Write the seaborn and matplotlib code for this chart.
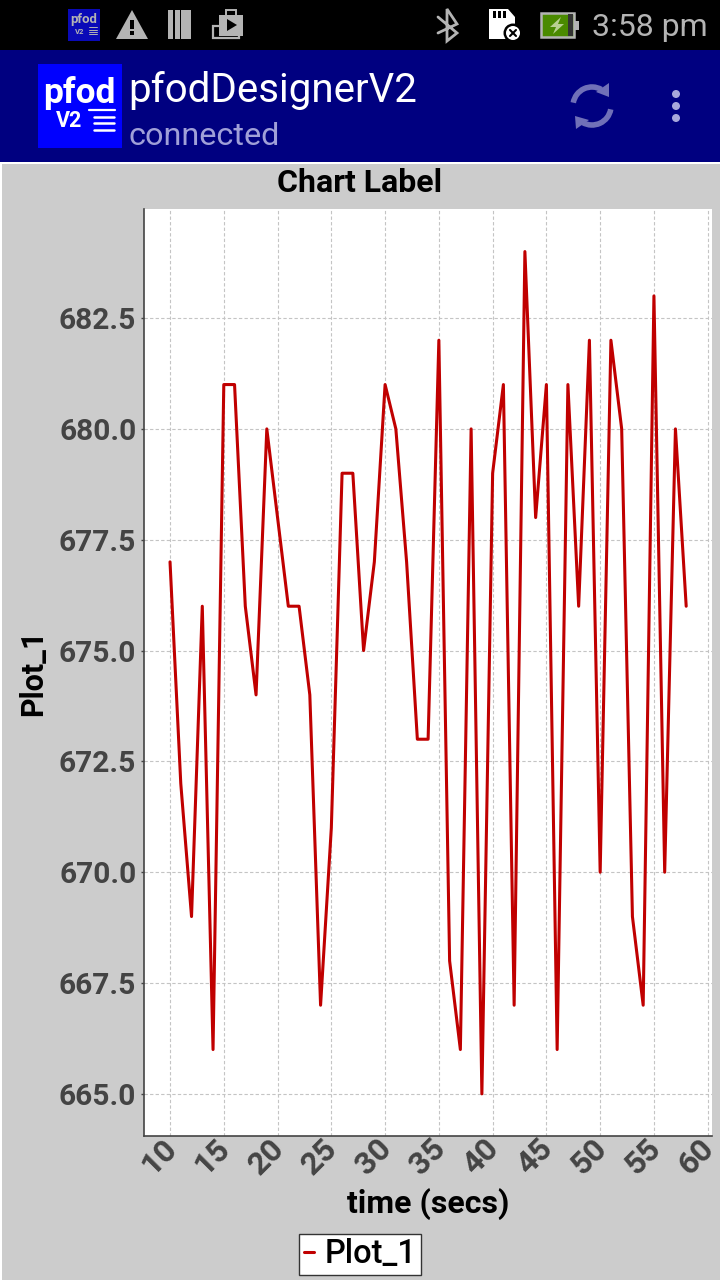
import numpy as np
import pandas as pd
import matplotlib
matplotlib.use("Agg")
import matplotlib.pyplot as plt
from matplotlib.patches import Rectangle, Polygon, Circle, Arc
from matplotlib.transforms import ScaledTranslation
import seaborn as sns

# data
time_secs = list(range(10, 59))
plot_1 = [677, 672, 669, 676, 666, 681, 681, 676, 674, 680,
          678, 676, 676, 674, 667, 671, 679, 679, 675, 677,
          681, 680, 677, 673, 673, 682, 668, 666, 680, 665,
          679, 681, 667, 684, 678, 681, 666, 681, 676, 682,
          670, 682, 680, 669, 667, 683, 670, 680, 676]
x_ticks = [10, 15, 20, 25, 30, 35, 40, 45, 50, 55, 60]
y_ticks = [665.0, 667.5, 670.0, 672.5, 675.0, 677.5, 680.0, 682.5]

sns.set_theme(style="whitegrid")
plt.rcParams["font.family"] = ["Roboto", "DejaVu Sans"]

df = pd.DataFrame({"time": time_secs, "value": plot_1})

W, H = 720, 1280
fig = plt.figure(figsize=(7.2, 12.8), dpi=100, facecolor="#cccccc")

# chart axes, pixel box 144..712 x 209..1136
ax = fig.add_axes([144 / W, 1 - 1136 / H, (712 - 144) / W, (1136 - 209) / H])
ax.set_facecolor("white")
sns.lineplot(data=df, x="time", y="value", color="#c00000", linewidth=2.2,
             label="Plot_1", ax=ax, errorbar=None)
ax.set_xlim(7.58, 60.4)
ax.set_ylim(664.05, 684.96)
ax.set_xticks(x_ticks)
ax.set_yticks(y_ticks)
ax.set_yticklabels(["%.1f" % v for v in y_ticks], fontsize=21.5, fontweight="bold", color="#444444")
ax.set_xticklabels([str(v) for v in x_ticks], fontsize=23, fontweight="bold", color="#444444",
                   rotation=45, ha="right", rotation_mode="anchor")
ax.tick_params(axis="x", length=0, pad=0)
ax.tick_params(axis="y", length=2, width=1, color="#444444", pad=3.5, left=True)
# rotated labels sit left of their tick in the reference
# (has to come after tick_params, that resets the label transform)
shift = ScaledTranslation(-9 / 100, 3 / 100, fig.dpi_scale_trans)
for lab in ax.get_xticklabels():
    lab.set_transform(lab.get_transform() + shift)
ax.grid(True, color="#c4c4c4", linestyle=(0, (3, 2)), linewidth=0.8)
ax.set_axisbelow(True)
for side in ["top", "right"]:
    ax.spines[side].set_visible(False)
for side in ["left", "bottom"]:
    ax.spines[side].set_color("#444444")
    ax.spines[side].set_linewidth(1.2)
ax.set_xlabel("")
ax.set_ylabel("")

fig.text(428 / W, 1 - 1204.5 / H, "time (secs)", fontsize=23, fontweight="bold", color="black",
         ha="center", va="center")
fig.text(33 / W, 1 - 672.5 / H, "Plot_1", fontsize=22, fontweight="bold", color="black",
         rotation=90, ha="center", va="center")
fig.text(360 / W, 1 - 183.5 / H, "Chart Label", fontsize=23, fontweight="bold", color="black",
         ha="center", va="center")

leg = ax.legend(loc="center", bbox_to_anchor=(360 / W, 1 - 1254.5 / H),
                bbox_transform=fig.transFigure, fontsize=23.5, frameon=True, fancybox=False,
                framealpha=1, facecolor="white", edgecolor="#333333",
                handlelength=0.32, handletextpad=0.3, borderpad=0.14, borderaxespad=0)
for t in leg.get_texts():
    t.set_fontweight("medium")
    t.set_color("black")

# app chrome on top, pixel coords
top = fig.add_axes([0, 0, 1, 1], facecolor="none", zorder=5)
top.set_xlim(0, W)
top.set_ylim(H, 0)
top.axis("off")
top.grid(False)

top.add_patch(Rectangle((0, 0), W, 50, color="black", lw=0))
top.add_patch(Rectangle((0, 50), W, 112, color="#000080", lw=0))
top.add_patch(Rectangle((0, 162), W, 1.5, color="white", lw=0))
top.add_patch(Rectangle((0, 162), 1.5, H - 162, color="white", lw=0))

# status bar icons
grey = "#b4b4b4"
top.add_patch(Rectangle((68, 9), 32, 32, color="#0a0ab8", lw=0))
top.text(84, 20, "pfod", color=grey, fontsize=9.5, fontweight="bold", ha="center", va="center")
top.text(80, 31, "V2", color=grey, fontsize=5.5, fontweight="bold", ha="center", va="center")
for yy in [27, 29.5, 32, 34]:
    top.plot([89, 97], [yy, yy], color=grey, lw=0.7)
top.add_patch(Polygon([[116, 39], [132, 10], [148, 39]], closed=True, color=grey, lw=0))
top.add_patch(Rectangle((130, 20), 4, 9, color="black", lw=0))
top.add_patch(Rectangle((130, 31), 4, 4, color="black", lw=0))
for xx in [168, 175, 181, 186]:
    top.add_patch(Rectangle((xx, 10), 5, 29, color=grey, lw=0))
top.add_patch(Rectangle((213, 26), 26, 12, fill=False, ec=grey, lw=1.6))
top.add_patch(Rectangle((219, 15), 24, 21, color=grey, lw=0))
top.add_patch(Rectangle((226, 10), 10, 6, fill=False, ec=grey, lw=1.4))
top.add_patch(Polygon([[227, 19], [227, 31], [237, 25]], closed=True, color="black", lw=0))

# bluetooth, sd card, battery
top.plot([438, 457, 447, 447, 457, 438], [17, 33, 41, 9, 24, 33], color=grey, lw=2, solid_joinstyle="miter")
top.add_patch(Polygon([[489, 9], [508, 9], [515, 17], [515, 39], [489, 39]], closed=True, color="white", lw=0))
for xx in [493, 498, 503]:
    top.add_patch(Rectangle((xx, 11), 2.5, 7, color="black", lw=0))
top.add_patch(Circle((513, 33), 9.5, color="black", lw=0))
top.add_patch(Circle((513, 33), 7, color="white", lw=0))
top.plot([510, 516], [30, 36], color="black", lw=1.5)
top.plot([510, 516], [36, 30], color="black", lw=1.5)
top.add_patch(Rectangle((541, 13), 33, 24, color="#4a8a00", ec=grey, lw=1.8))
top.add_patch(Rectangle((568, 14), 5, 22, color="#333333", lw=0))
top.add_patch(Rectangle((574.5, 21), 4, 9, color=grey, lw=0))
top.add_patch(Polygon([[561, 17], [550, 27], [556, 27], [553, 34], [564, 24], [558, 24]], closed=True, color="#b8d090", lw=0))
top.text(650, 27, "3:58 pm", color=grey, fontsize=23, ha="center", va="center")

# action bar
top.add_patch(Rectangle((38, 64), 84, 84, color="#0000ff", lw=0))
top.text(79, 93, "pfod", color="white", fontsize=25.5, fontweight="bold", ha="center", va="center")
top.text(69, 121, "V2", color="white", fontsize=15.5, fontweight="bold", ha="center", va="center")
top.plot([89, 115], [110, 110], color="white", lw=1.6)
for yy in [117, 123, 130]:
    top.plot([94, 114], [yy, yy], color="white", lw=1.8)
top.text(128, 90, "pfodDesignerV2", color="white", fontsize=29, ha="left", va="center")
top.text(128, 136.5, "connected", color="#a0a0d8", fontsize=23.3, ha="left", va="center")

# refresh icon and overflow dots
icon = "#7070b8"
top.add_patch(Arc((592, 106), 38, 38, theta1=190, theta2=300, color=icon, lw=4))
top.add_patch(Arc((592, 106), 38, 38, theta1=10, theta2=120, color=icon, lw=4))
top.add_patch(Polygon([[596, 92], [609, 83], [609, 97]], closed=True, color=icon, lw=0))
top.add_patch(Polygon([[575, 116], [589, 120], [576, 129]], closed=True, color=icon, lw=0))
for yy in [94, 106, 118]:
    top.add_patch(Circle((676, yy), 4, color="#a8a8dc", lw=0))

fig.savefig("out.png", dpi=100, facecolor=fig.get_facecolor())
